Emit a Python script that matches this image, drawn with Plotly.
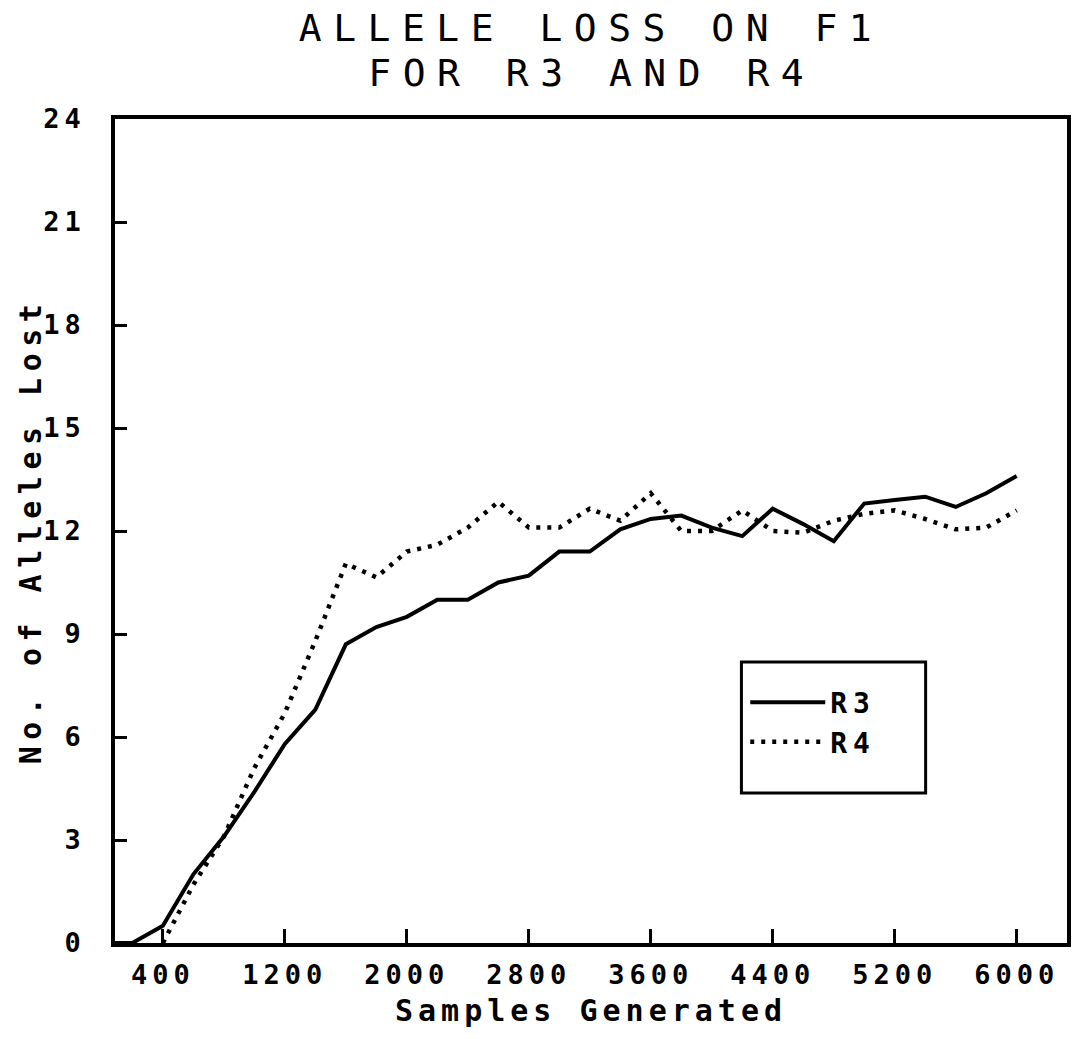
import plotly.graph_objects as go

# Samples generated (x) and alleles lost on F1 for the two runs
samples = [0, 200, 400, 600, 800, 1000, 1200, 1400, 1600, 1800, 2000,
           2200, 2400, 2600, 2800, 3000, 3200, 3400, 3600, 3800, 4000,
           4200, 4400, 4600, 4800, 5000, 5200, 5400, 5600, 5800, 6000]
r3_lost = [0, 0, 0.5, 2.0, 3.1, 4.4, 5.8, 6.8, 8.7, 9.2, 9.5,
           10.0, 10.0, 10.5, 10.7, 11.4, 11.4, 12.05, 12.35, 12.45, 12.1,
           11.85, 12.65, 12.2, 11.7, 12.8, 12.9, 13.0, 12.7, 13.1, 13.6]
r4_lost = [None, None, 0, 1.7, 3.1, 5.1, 6.7, 8.8, 11.05, 10.65, 11.4,
           11.6, 12.1, 12.85, 12.1, 12.1, 12.65, 12.3, 13.1, 12.0, 12.0,
           12.6, 12.0, 11.95, 12.3, 12.5, 12.6, 12.35, 12.05, 12.1, 12.6]
series_names = ["R3", "R4"]

x_ticks = [400, 1200, 2000, 2800, 3600, 4400, 5200, 6000]
y_ticks = [0, 3, 6, 9, 12, 15, 18, 21, 24]

title_lines = ["ALLELE LOSS ON F1", "FOR R3 AND R4"]
x_title = "Samples Generated"
y_title = "No. of Alleles Lost"

MONO = "DejaVu Sans Mono"
INK = "black"

fig = go.Figure()
fig.add_trace(go.Scatter(
    x=samples, y=r3_lost, mode="lines", name=series_names[0],
    line=dict(color=INK, width=4),
))
fig.add_trace(go.Scatter(
    x=samples, y=r4_lost, mode="lines", name=series_names[1],
    line=dict(color=INK, width=4.5, dash="4px,7px"),
))

axis_common = dict(
    showline=True, linecolor=INK, linewidth=3.5, mirror=True,
    showgrid=False, zeroline=False,
    ticks="inside", tickcolor=INK, tickwidth=2.5,
    tickmode="array",
    tickfont=dict(family=MONO, size=27, color=INK, weight="bold"),
)

fig.update_layout(
    width=1074, height=1039,
    margin=dict(l=115, r=3, t=119, b=96),
    paper_bgcolor="white", plot_bgcolor="white",
    title=dict(
        text=title_lines[0], x=0.5, xref="paper", xanchor="center",
        y=1 - 28 / 1039, yref="container", yanchor="middle",
        font=dict(family=MONO, size=38, color=INK),
    ),
    xaxis=dict(
        axis_common, range=[86, 6330], tickvals=x_ticks, ticklen=14,
        ticklabelstandoff=5,
        title=dict(text=x_title, standoff=12,
                   font=dict(family=MONO, size=30, color=INK, weight="bold")),
    ),
    yaxis=dict(
        axis_common, range=[0, 24], tickvals=y_ticks, ticklen=12,
        ticklabelstandoff=20,
        title=dict(text=y_title, standoff=4,
                   font=dict(family=MONO, size=30, color=INK, weight="bold")),
    ),
    showlegend=True,
    legend=dict(
        x=0.662, xanchor="left", y=0.322, yanchor="top",
        bgcolor="rgba(0,0,0,0)", borderwidth=0,
        font=dict(family=MONO, size=28, color=INK, weight="bold"),
        itemwidth=75, tracegroupgap=0,
    ),
    annotations=[dict(
        text=title_lines[1], xref="paper", x=0.5, xanchor="center",
        yref="paper", y=1 + (119 - 73) / 824, yanchor="middle",
        showarrow=False,
        font=dict(family=MONO, size=38, color=INK),
    )],
    shapes=[dict(
        type="rect", xref="paper", yref="paper",
        x0=0.658, x1=0.8515, y0=0.182, y1=0.341,
        line=dict(color=INK, width=3), fillcolor="rgba(0,0,0,0)",
    )],
)

# Plotter-style wide letter spacing for the title, captions and tick labels
post = """
var gd = document.getElementById('{plot_id}');
function spread() {
  var rules = [['.gtitle', '11.5px'], ['.annotation-text', '11.5px'],
               ['.g-xtitle text', '5px'], ['.g-ytitle text', '6.5px'],
               ['.legendtext', '6px'],
               ['.xtick text', '5px'], ['.ytick text', '5px']];
  rules.forEach(function (r) {
    gd.querySelectorAll(r[0]).forEach(function (el) {
      el.style.letterSpacing = r[1];
    });
  });
}
spread();
if (gd.on) { gd.on('plotly_afterplot', spread); }
"""

fig.write_html("out.html", post_script=post)
